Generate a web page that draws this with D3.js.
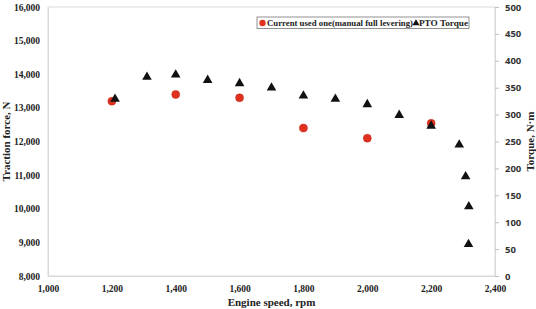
<!DOCTYPE html>
<html>
<head>
<meta charset="utf-8">
<script src="https://cdn.jsdelivr.net/npm/d3@7"></script>
<style>
  body { margin: 0; background: #fff; }
  svg { display: block; }
</style>
</head>
<body>
<svg id="chart"></svg>
<script>
// current used one (manual full levering) - traction force, N
var forceRpm = [1200, 1400, 1600, 1800, 2000, 2200]
var forceVals = [13200, 13400, 13300, 12400, 12100, 12540]

// PTO torque, N·m
var torqueRpm = [1210, 1310, 1400, 1500, 1600, 1700, 1800, 1900, 2000, 2100, 2200, 2288, 2308, 2318, 2317]
var torqueVals = [329, 370, 374, 364, 358, 350, 335, 329, 319, 299, 279, 244, 185, 129, 59]

var xTicks = [1000, 1200, 1400, 1600, 1800, 2000, 2200, 2400]
var leftTicks = [8000, 9000, 10000, 11000, 12000, 13000, 14000, 15000, 16000]
var rightTicks = [0, 50, 100, 150, 200, 250, 300, 350, 400, 450, 500]

var W = 536, H = 309
var margin = {top: 7, right: 41, bottom: 33, left: 48}
var width = W - margin.left - margin.right
var height = H - margin.top - margin.bottom

var svg = d3.select("#chart").attr("width", W).attr("height", H)
var g = svg.append("g").attr("transform", `translate(${margin.left},${margin.top})`)

var x = d3.scaleLinear().domain([1000, 2400]).range([0, width])
var yL = d3.scaleLinear().domain([8000, 16000]).range([height, 0])
var yR = d3.scaleLinear().domain([0, 500]).range([height, 0])
var fmt = d3.format(",")
var serif = "'Liberation Serif', 'Times New Roman', serif"
var sans = "'Open Sans', 'Liberation Sans', sans-serif"

// frame
g.append("rect")
 .attr("x", 0).attr("y", 0)
 .attr("width", width).attr("height", height)
 .attr("fill", "none").attr("stroke", "#d9d9d9").attr("stroke-width", 1)

// bottom axis
var xAxis = g.append("g")
 .attr("transform", `translate(0,${height})`)
 .call(d3.axisBottom(x).tickValues(xTicks).tickFormat(fmt).tickSize(0).tickPadding(9))
xAxis.select(".domain").attr("stroke", "#d9d9d9")
xAxis.selectAll("text").attr("font-family", serif).attr("font-weight", "bold")
     .attr("font-size", 9.5).attr("fill", "#222")

// left axis
var lAxis = g.append("g")
 .call(d3.axisLeft(yL).tickValues(leftTicks).tickFormat(fmt).tickSize(0).tickPadding(8))
lAxis.select(".domain").attr("stroke", "#d9d9d9")
lAxis.selectAll("text").attr("font-family", serif).attr("font-weight", "bold")
     .attr("font-size", 9.5).attr("fill", "#222")

// right axis
var rAxis = g.append("g")
 .attr("transform", `translate(${width},0)`)
 .call(d3.axisRight(yR).tickValues(rightTicks).tickSize(4).tickPadding(6))
rAxis.select(".domain").attr("stroke", "#d9d9d9")
rAxis.selectAll("line").attr("stroke", "#bfbfbf")
rAxis.selectAll("text").attr("font-family", sans).attr("font-weight", "bold")
     .attr("font-size", 9.5).attr("fill", "#333")

// axis titles
svg.append("text")
 .attr("x", margin.left + width / 2).attr("y", H - 3)
 .attr("text-anchor", "middle")
 .attr("font-family", serif).attr("font-weight", "bold").attr("font-size", 11)
 .attr("fill", "#222")
 .text("Engine speed, rpm")

svg.append("text")
 .attr("transform", `translate(10,${margin.top + height / 2}) rotate(-90)`)
 .attr("text-anchor", "middle")
 .attr("font-family", serif).attr("font-weight", "bold").attr("font-size", 11)
 .attr("fill", "#222")
 .text("Traction force, N")

svg.append("text")
 .attr("transform", `translate(534,${margin.top + height / 2}) rotate(-90)`)
 .attr("text-anchor", "middle")
 .attr("font-family", serif).attr("font-weight", "bold").attr("font-size", 11)
 .attr("fill", "#222")
 .text("Torque, N·m")

// circle markers (under the triangles)
g.append("g")
 .selectAll("circle")
 .data(forceRpm.map((r, i) => ({r: r, v: forceVals[i]})))
 .join("circle")
 .attr("cx", d => x(d.r))
 .attr("cy", d => yL(d.v))
 .attr("r", 4)
 .attr("fill", "#e0301e")
 .attr("stroke", "#c0281a")
 .attr("stroke-width", 0.5)

// triangle markers
var tri = d3.symbol().type(d3.symbolTriangle).size(40)
g.append("g")
 .selectAll("path")
 .data(torqueRpm.map((r, i) => ({r: r, v: torqueVals[i]})))
 .join("path")
 .attr("d", tri)
 .attr("transform", d => `translate(${x(d.r)},${yR(d.v)})`)
 .attr("fill", "#111")

// legend
var lg = svg.append("g").attr("transform", "translate(257,17)")
lg.append("rect")
  .attr("x", 0).attr("y", 0).attr("width", 212).attr("height", 11.5)
  .attr("fill", "#fff").attr("stroke", "#777").attr("stroke-width", 0.8)
lg.append("circle").attr("cx", 5.5).attr("cy", 6).attr("r", 3.2).attr("fill", "#e0301e")
lg.append("text").attr("x", 10).attr("y", 9.3)
  .attr("font-family", serif).attr("font-weight", "bold").attr("font-size", 8.8)
  .attr("fill", "#222")
  .attr("textLength", 146).attr("lengthAdjust", "spacingAndGlyphs")
  .text("Current used one(manual full levering)")
lg.append("path").attr("d", d3.symbol().type(d3.symbolTriangle).size(22))
  .attr("transform", "translate(159,6.3)").attr("fill", "#111")
lg.append("text").attr("x", 162).attr("y", 9.3)
  .attr("font-family", serif).attr("font-weight", "bold").attr("font-size", 8.8)
  .attr("fill", "#222")
  .attr("textLength", 49).attr("lengthAdjust", "spacingAndGlyphs")
  .text("PTO Torque")
</script>
</body>
</html>
